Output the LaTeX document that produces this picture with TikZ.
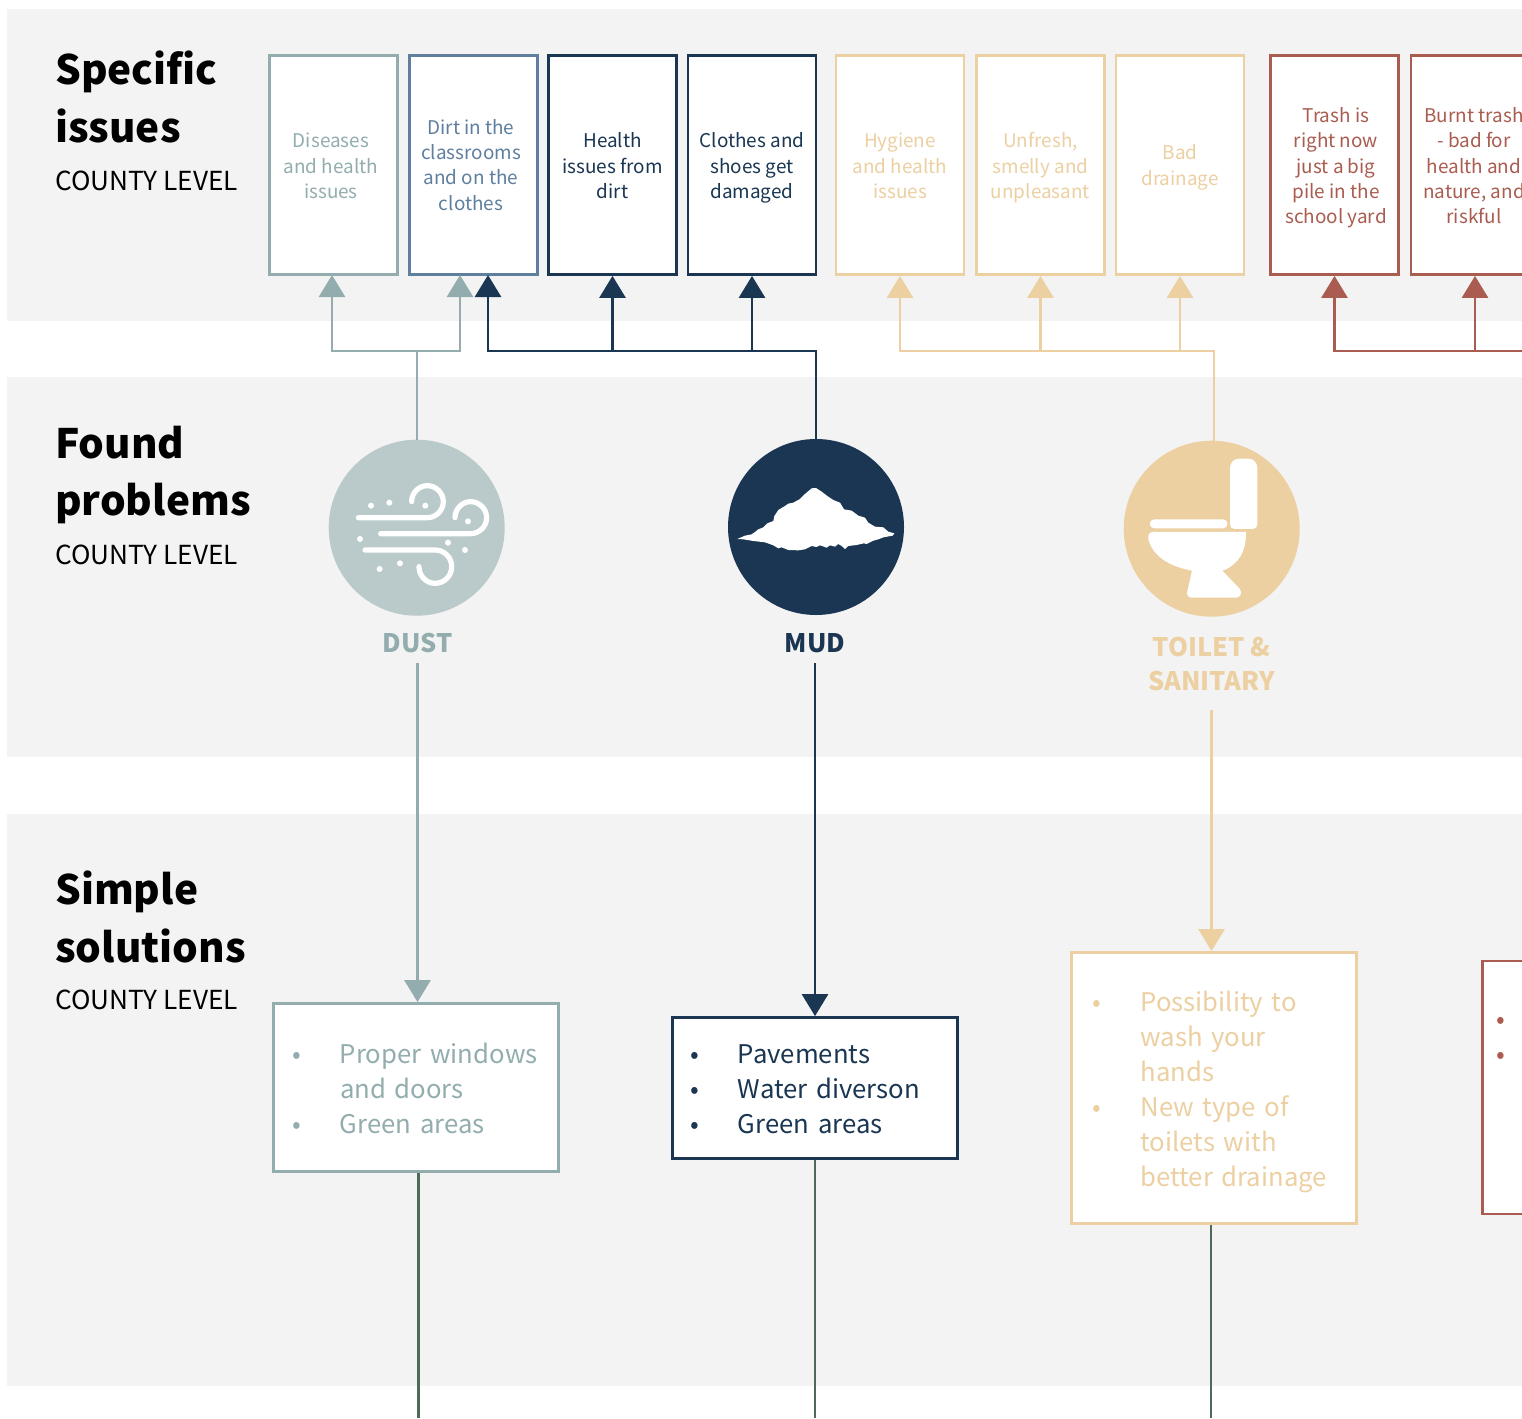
\documentclass[tikz,border=0pt]{standalone}
\usepackage{fontspec}
\setmainfont{Noto Sans CJK JP}
\usetikzlibrary{arrows.meta,calc}
\definecolor{band}{HTML}{F3F3F3}
\definecolor{dustc}{HTML}{93ADAF}
\definecolor{dustfill}{HTML}{BACACA}
\definecolor{dirtc}{HTML}{5F7F9F}
\definecolor{navy}{HTML}{1A3652}
\definecolor{sand}{HTML}{ECD0A2}
\definecolor{rust}{HTML}{A95C4F}
\definecolor{moss}{HTML}{4F6A58}
\newcommand{\offtext}[3]{\vbox{\kern#2pt\hbox{\begin{tabular}[c]{@{}c@{}}#3\end{tabular}\kern#1pt}}}
\newcommand{\topgap}[2]{\rule{0pt}{\dimexpr\fontcharht\font`#1+#2pt\relax}}
\tikzset{
  issue/.style={draw=#1,text=#1,fill=white,line width=2.8pt,minimum width=128pt,minimum height=219pt,inner sep=0pt,
    font=\fontsize{18.9}{25.3}\selectfont},
  soln/.style={draw=#1,text=#1,fill=white,line width=2.8pt,minimum width=285pt,inner sep=0pt,
    font=\fontsize{25.7}{35}\selectfont},
  lnk/.style={draw=#1,line width=2.8pt,-{Triangle[length=22pt,width=26pt,color=#1]}},
  plainlnk/.style={draw=#1,line width=2.4pt},
  bigc/.style={circle,fill=#1,minimum size=176pt,inner sep=0pt},
  head/.style={anchor=west,inner sep=0pt,align=left,font=\fontsize{40.5}{57.5}\selectfont\bfseries},
  sub/.style={anchor=west,inner sep=0pt,font=\fontsize{26.2}{32}\selectfont},
  lab/.style={text=#1,inner sep=0pt,align=center,font=\fontsize{25.5}{34.5}\selectfont\bfseries},
  iconline/.style={draw=white,line width=5.2pt,line cap=round},
  zoomed/.style={x=0.3333pt,y=-0.3333pt}
}
\newcommand{\bul}{\makebox[48pt][l]{•}}
\newcommand{\nob}{\hspace*{48pt}}
\begin{document}
\begin{tikzpicture}[x=1pt,y=-1pt]
\useasboundingbox (0,0) rectangle (1522,1418);
\clip (0,0) rectangle (1522,1418);
\fill[band] (7,9) rectangle (1522,321);
\fill[band] (7,377) rectangle (1522,757);
\fill[band] (7,814) rectangle (1522,1386);

% headings
\node[head] (h1) at (55,97) {Specific\\issues};
\node[sub] (h1s) at (55,181) {COUNTY LEVEL};
\node[head] (h2) at (55,475) {Found\\problems};
\node[sub] (h2s) at (55,555) {COUNTY LEVEL};
\node[head] (h3) at (55,917) {Simple\\solutions};
\node[sub] (h3s) at (55,1000) {COUNTY LEVEL};

% issue boxes
\node[issue=dustc] (b1) at (333.5,165) {\offtext{5}{6}{Diseases\\and health\\issues}};
\node[issue=dirtc] (b2) at (473.5,165) {\offtext{5}{4.5}{Dirt in the\\classrooms\\and on the\\clothes}};
\node[issue=navy] (b3) at (612.5,165) {\offtext{0}{6}{Health\\issues from\\dirt}};
\node[issue=navy] (b4) at (752,165) {\offtext{0}{6}{Clothes and\\shoes get\\damaged}};
\node[issue=sand] (b5) at (900,165) {\offtext{0}{6}{Hygiene\\and health\\issues}};
\node[issue=sand] (b6) at (1040.5,165) {\offtext{0}{6}{Unfresh,\\smelly and\\unpleasant}};
\node[issue=sand] (b7) at (1180,165) {\offtext{0}{5}{Bad\\drainage}};
\node[issue=rust] (b8) at (1334.5,165) {\offtext{-3}{6}{Trash is\\right now\\just a big\\pile in the\\school yard}};
\node[issue=rust] (b9) at (1475,165) {\offtext{2}{6}{Burnt trash\\- bad for\\health and\\nature, and\\riskful}};

% problem circles
\node[bigc=dustfill] (c1) at (416.7,527.7) {};
\node[bigc=navy] (c2) at (816,527) {};
\node[bigc=sand] (c3) at (1211.7,528.7) {};

% wind icon
\begin{scope}[shift={(310,420)}]
\begin{scope}[zoomed]
\draw[iconline] (145,293) -- (352,293) .. controls (378,293) and (400,271) .. (400,245) .. controls (400,219) and (378,197) .. (352,197) .. controls (326,197) and (305,219) .. (305,245);
\draw[iconline] (212,341) -- (482,341) .. controls (508,341) and (530,319) .. (530,293) .. controls (530,267) and (508,245) .. (482,245) .. controls (456,245) and (435,267) .. (435,293);
\draw[iconline] (165,390) -- (375,390) .. controls (403,390) and (425,412) .. (425,440) .. controls (425,468) and (403,490) .. (375,490) .. controls (349,490) and (327,468) .. (327,440);
\foreach \px/\py in {183/257,238/248,346/257,474/304,150/357,414/368,465/390,270/430,209/447}
  \fill[white] (\px,\py) circle[radius=3pt];
\end{scope}
\end{scope}

% mud icon
\begin{scope}[shift={(710,420)}]
\begin{scope}[zoomed]
\fill[white] (82,357)--(105,347)--(125,343)--(135,336)--(145,328)--(160,322)--(172,310)--(190,303)--(193,288)--(205,270)--(225,258)--(235,251)--(250,248)--(270,237)--(285,222)--(305,205)--(318,204)--(335,215)--(352,228)--(370,240)--(390,248)--(402,268)--(425,272)--(445,287)--(465,293)--(475,308)--(495,320)--(520,322)--(535,335)--(553,340)--(548,347)--(520,352)--(505,358)--(490,362)--(470,372)--(462,370)--(440,375)--(415,378)--(405,387)--(395,378)--(385,372)--(375,380)--(360,376)--(350,383)--(330,376)--(320,381)--(305,378)--(285,388)--(265,391)--(235,390)--(215,382)--(205,385)--(190,376)--(165,367)--(130,363)--(100,358)--cycle;
\end{scope}
\end{scope}

% toilet icon
\begin{scope}[shift={(1110,425)}]
\begin{scope}[zoomed]
\fill[white] (360,130) .. controls (360,112) and (372,101) .. (388,101) -- (414,101) .. controls (430,101) and (442,112) .. (442,130) -- (442,298) .. controls (442,307) and (436,312) .. (428,312) -- (374,312) .. controls (366,312) and (360,307) .. (360,298) -- cycle;
\fill[white] (133,283) -- (339,283) .. controls (357,283) and (357,310) .. (339,310) -- (133,310) .. controls (115,310) and (115,283) .. (133,283) -- cycle;
\fill[white] (128,321) -- (408,321) .. controls (409,380) and (385,420) .. (337,437) -- (388,490) .. controls (398,503) and (392,518) .. (378,518) -- (245,518) .. controls (235,518) and (229,510) .. (232,500) -- (246,437) .. controls (180,425) and (128,395) .. (115,342) .. controls (113,330) and (118,321) .. (128,321) -- cycle;
\end{scope}
\end{scope}

% problem labels
\node[lab=dustc,minimum height=40pt] (l1) at (417.5,643) {DUST};
\node[lab=navy,minimum height=40pt] (l2) at (815,643) {MUD};
\node[lab=sand,minimum height=92pt] (l3) at (1211.5,664) {TOILET \&\\SANITARY};

% solution boxes
\node[soln=dustc,minimum height=168pt,text width=248pt,align=left] (s1) at (416,1087.5)
  {\topgap{d}{2}\bul Proper windows\\\nob and doors\\\bul Green areas};
\node[soln=navy,minimum height=141pt,text width=250pt,align=left] (s2) at (815,1088)
  {\topgap{P}{2}\bul Pavements\\\bul Water diverson\\\bul Green areas};
\node[soln=sand,minimum height=271pt,text width=243pt,align=left] (s3) at (1214,1088)
  {\topgap{b}{8}\bul Possibility to\\\nob wash your\\\nob hands\\\bul New type of\\\nob toilets with\\\nob better drainage};
\node[soln=rust,minimum height=253pt,text width=258pt,align=left] (s4) at (1625,1087.5)
  {\topgap{•}{10}\bul\\\bul\\~\\~\\~};

% bus coordinates and free ends
\coordinate (bus1) at (417,351);
\coordinate (bus2) at (816,351);
\coordinate (bus3) at (1214,351);
\coordinate (bus4) at (1530,351);
\coordinate (t1) at (332,275);
\coordinate (t2) at (460,275);
\coordinate (t3) at (488,275);
\coordinate (e1) at (418.5,1418);
\coordinate (e2) at (815,1418);
\coordinate (e3) at (1211,1418);

% connectors, top band
\draw[lnk=dustc] (c1.north -| bus1) -- (bus1) -| (t1);
\draw[lnk=dustc] (bus1) -| (t2);
\draw[lnk=navy] (c2.north) -- (bus2) -| (t3);
\draw[lnk=navy] (bus2) -| (b3.south);
\draw[lnk=navy] (bus2) -| (b4.south);
\draw[lnk=sand] (c3.north -| bus3) -- (bus3) -| (b5.south);
\draw[lnk=sand] (bus3) -| (b6.south);
\draw[lnk=sand] (bus3) -| (b7.south);
\draw[lnk=rust] (bus4) -| (b8.south);
\draw[lnk=rust] (bus4) -| (b9.south);

% connectors, middle band
\draw[lnk=dustc] (l1.south) -- (l1.south |- s1.north);
\draw[lnk=navy] (l2.south) -- (s2.north);
\draw[lnk=sand] (l3.south) -- (l3.south |- s3.north);

% connectors, bottom
\draw[plainlnk=moss] (e1 |- s1.south) -- (e1);
\draw[plainlnk=moss] (s2.south) -- (e2);
\draw[plainlnk=moss] (e3 |- s3.south) -- (e3);
\end{tikzpicture}
\end{document}
